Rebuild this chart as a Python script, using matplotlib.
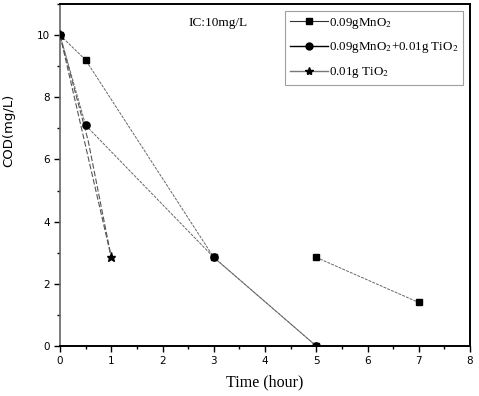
import matplotlib
matplotlib.use("Agg")
import matplotlib.pyplot as plt
import numpy as np
from matplotlib.lines import Line2D
from matplotlib.ticker import MultipleLocator

# Data
time_mno2 = [0, 0.5, 3, 5]
cod_mno2 = [10, 9.2, 2.85, 0]
time_mno2_late = [5, 7]
cod_mno2_late = [2.85, 1.4]
time_mix = [0, 0.5, 3, 5]
cod_mix = [10, 7.1, 2.85, 0]
time_tio2 = [0, 1]
cod_tio2 = [10, 2.85]
time_tio2_b = [0, 0.55, 1]
cod_tio2_b = [10, 6.6, 2.85]

labels = ["0.09gMnO$_2$", "0.09gMnO$_2$+0.01g TiO$_2$", "0.01g TiO$_2$"]
xticks = list(range(0, 9))
yticks = [0, 2, 4, 6, 8, 10]

plt.rcParams['mathtext.fontset'] = 'stix'

fig = plt.figure(figsize=(4.79, 3.96), dpi=100)
ax = fig.add_axes([60/479, 50/396, 410/479, 342/396])

lc = '#666666'
ax.plot(time_mno2, cod_mno2, color=lc, lw=0.7, ls=(0, (3, 1.2)), marker='s',
        ms=5, mfc='black', mec='black', zorder=3)
ax.plot(time_mno2_late, cod_mno2_late, color=lc, lw=0.7, ls=(0, (3, 1.2)), marker='s',
        ms=5, mfc='black', mec='black', zorder=3)
ax.plot(time_mix, cod_mix, color=lc, lw=0.7, ls=(0, (3, 1.2)), marker='o',
        ms=5.2, mfc='black', mec='black', zorder=3)
ax.plot(time_tio2_b, cod_tio2_b, color='#555555', lw=0.8, ls=(0, (5, 2)), zorder=2)
ax.plot(time_tio2, cod_tio2, color='#555555', lw=0.8, ls=(0, (5, 2)), marker='*',
        ms=6.5, mfc='black', mec='black', zorder=3)

ax.set_xlim(0, 8)
ax.set_ylim(0, 11)
ax.set_xticks(xticks)
ax.set_yticks(yticks)
ax.xaxis.set_minor_locator(MultipleLocator(0.5))
ax.yaxis.set_minor_locator(MultipleLocator(1))
ax.tick_params(which='major', direction='out', length=4, width=1, labelsize=7.5, pad=3)
ax.tick_params(which='minor', direction='out', length=2.5, width=1)
ax.tick_params(top=False, right=False)

for s in ['top', 'right', 'bottom']:
    ax.spines[s].set_linewidth(1.4)
ax.spines['left'].set_linewidth(1.2)
ax.spines['left'].set_color('#666666')

ax.set_xlabel("Time (hour)", family='Liberation Serif', fontsize=11.5, labelpad=6)
ax.set_ylabel("COD(mg/L)", fontsize=9.5)
ax.yaxis.set_label_coords(-0.11, 0.63)

ax.text(188/479, 1 - 23/396, "IC:10mg/L", transform=fig.transFigure, family='Liberation Serif',
        fontsize=9.5, va='center', ha='left')

handles = [
    Line2D([], [], color='#333333', lw=0.8, marker='s', ms=4.5, mfc='black', mec='black'),
    Line2D([], [], color='black', lw=1.0, marker='o', ms=5, mfc='black', mec='black'),
    Line2D([], [], color='#777777', lw=1.0, marker='*', ms=6, mfc='black', mec='black'),
]
leg = ax.legend(handles, labels, loc='upper right', bbox_to_anchor=(463/479, 385/396),
                bbox_transform=fig.transFigure,
                prop={'family': 'Liberation Serif', 'size': 9.4}, frameon=True,
                fancybox=False, edgecolor='#888888', handlelength=2.9,
                handletextpad=0.1, labelspacing=0.75, borderpad=0.35, borderaxespad=0)
leg.get_frame().set_linewidth(0.8)

fig.savefig("out.png", dpi=100)
